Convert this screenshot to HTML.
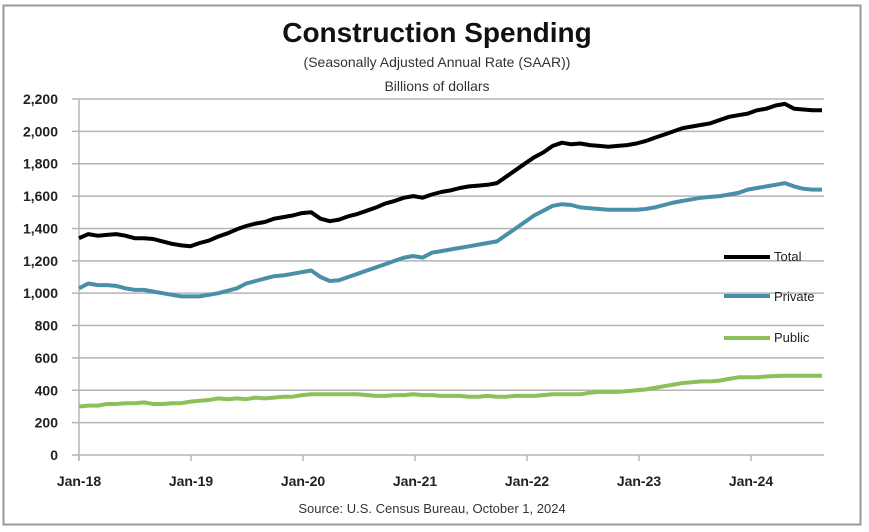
<!DOCTYPE html>
<html><head><style>
body{margin:0;background:#fff;}
svg{display:block;font-family:"Liberation Sans",sans-serif;}
</style></head><body>
<svg width="869" height="532" viewBox="0 0 869 532">
<rect x="3.5" y="5.5" width="857" height="519" fill="#fff" stroke="#999" stroke-width="2"/>
<text x="437" y="42" text-anchor="middle" font-size="28" font-weight="bold" fill="#111">Construction  Spending</text>
<text x="437" y="67" text-anchor="middle" font-size="14" fill="#333">(Seasonally Adjusted Annual Rate (SAAR))</text>
<text x="437" y="91" text-anchor="middle" font-size="14" fill="#333">Billions of dollars</text>
<g id="grid" stroke="#b5b5b5" stroke-width="1.5"></g>
<g id="ylab" font-size="14" font-weight="bold" fill="#222" text-anchor="end"></g>
<g id="xlab" font-size="14" font-weight="bold" fill="#222" text-anchor="middle"></g>
<g id="series" fill="none" stroke-linejoin="round" stroke-width="4"></g>
<g font-size="13" fill="#222">
<line x1="724" y1="257" x2="770" y2="257" stroke="#000" stroke-width="4"/><text x="774" y="261">Total</text>
<line x1="724" y1="296" x2="770" y2="296" stroke="#4a8fa8" stroke-width="4"/><text x="774" y="301">Private</text>
<line x1="724" y1="338" x2="770" y2="338" stroke="#8cc05a" stroke-width="4"/><text x="774" y="342">Public</text>
</g>
<text x="432" y="513" text-anchor="middle" font-size="13" fill="#333">Source: U.S. Census Bureau, October 1, 2024</text>
</svg>
<script>
const ns="http://www.w3.org/2000/svg";
function el(t,a,p,txt){const e=document.createElementNS(ns,t);for(const k in a)e.setAttribute(k,a[k]);if(txt)e.textContent=txt;document.getElementById(p).appendChild(e);}
const y0=455,ppu=(455-99)/2200,x0=79,pm=112/12;
for(let v=0;v<=2200;v+=200){const y=y0-v*ppu;el('line',{x1:72,x2:824,y1:y,y2:y},'grid');el('text',{x:58,y:y+5},'ylab',v.toLocaleString('en-US'));}
el('line',{x1:79,x2:79,y1:99,y2:460},'grid');
['Jan-18','Jan-19','Jan-20','Jan-21','Jan-22','Jan-23','Jan-24'].forEach((l,i)=>{const x=x0+i*112;el('line',{x1:x,x2:x,y1:455,y2:461},'grid');el('text',{x:x,y:486},'xlab',l);});
const T=[1340,1365,1355,1360,1365,1355,1340,1340,1335,1320,1305,1295,1290,1310,1325,1350,1370,1395,1415,1430,1440,1460,1470,1480,1495,1500,1460,1445,1455,1475,1490,1510,1530,1555,1570,1590,1600,1590,1610,1625,1635,1650,1660,1665,1670,1680,1720,1760,1800,1840,1870,1910,1930,1920,1925,1915,1910,1905,1910,1915,1925,1940,1960,1980,2000,2020,2030,2040,2050,2070,2090,2100,2110,2130,2140,2160,2170,2140,2135,2130,2130];
const P=[1030,1060,1050,1050,1045,1030,1020,1020,1010,1000,990,980,980,980,990,1000,1015,1030,1060,1075,1090,1105,1110,1120,1130,1140,1100,1075,1080,1100,1120,1140,1160,1180,1200,1220,1230,1220,1250,1260,1270,1280,1290,1300,1310,1320,1360,1400,1440,1480,1510,1540,1550,1545,1530,1525,1520,1515,1515,1515,1515,1520,1530,1545,1560,1570,1580,1590,1595,1600,1610,1620,1640,1650,1660,1670,1680,1660,1645,1640,1640];
const U=[300,305,305,315,315,320,320,325,315,315,320,320,330,335,340,350,345,350,345,355,350,355,360,360,370,375,375,375,375,375,375,370,365,365,370,370,375,370,370,365,365,365,360,360,365,360,360,365,365,365,370,375,375,375,375,385,390,390,390,395,400,405,415,425,435,445,450,455,455,460,470,480,480,480,485,488,490,490,490,490,490];
function draw(d,c){const sx=(822-x0)/(d.length-1);el('polyline',{points:d.map((v,i)=>(x0+i*sx).toFixed(1)+','+(y0-v*ppu).toFixed(1)).join(' '),stroke:c},'series');}
draw(U,'#8cc05a');draw(P,'#4a8fa8');draw(T,'#000');
</script>
</body></html>
